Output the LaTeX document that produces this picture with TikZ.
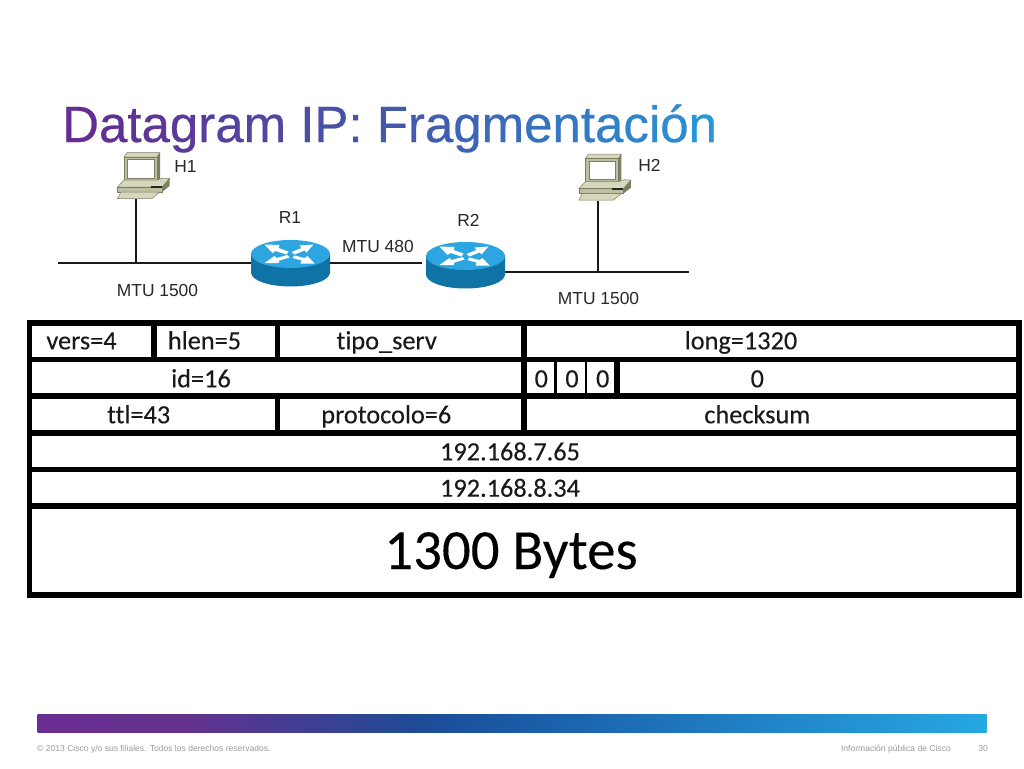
\documentclass[tikz,border=0pt]{standalone}
\usepackage{fontspec}
\setmainfont{Liberation Sans}
\newfontfamily\titlefont[FakeBold=0.5]{Liberation Sans}
\newfontfamily\tablefont[Ligatures=NoCommon,FakeBold=0.15]{Carlito}
\definecolor{tA}{RGB}{101,44,145}
\definecolor{tM}{RGB}{68,88,172}
\definecolor{tC}{RGB}{38,150,216}
\definecolor{pcMid}{RGB}{190,190,160}
\definecolor{pcLight}{RGB}{215,215,190}
\definecolor{pcDark}{RGB}{125,125,100}
\definecolor{rTop}{RGB}{45,165,225}
\definecolor{rSide}{RGB}{15,115,165}
\definecolor{labelInk}{RGB}{40,40,40}
\definecolor{footInk}{RGB}{155,155,155}
\definecolor{tBarA}{RGB}{107,45,145}
\definecolor{tBarB}{RGB}{98,50,142}
\definecolor{tBarC}{RGB}{30,75,150}
\definecolor{tBarD}{RGB}{26,90,165}
\definecolor{tBarE}{RGB}{38,168,226}
\pgfdeclarehorizontalshading{ciscobar}{100bp}{%
 color(0bp)=(tBarA); color(25bp)=(tBarA); color(33bp)=(tBarB); color(45bp)=(tBarC); color(50bp)=(tBarD); color(75bp)=(tBarE); color(100bp)=(tBarE)}
\newcommand\Ta[2]{\textcolor{tM!#1!tA}{#2}}
\newcommand\Tb[2]{\textcolor{tC!#1!tM}{#2}}
\tikzset{
 cell/.style={anchor=base,inner sep=0pt,font=\tablefont\fontsize{26.3}{30}\selectfont,text=black!90},
 netlabel/.style={anchor=base,inner sep=0pt,font=\fontsize{17.4}{20}\selectfont,text=labelInk},
 footer/.style={inner sep=0pt,text=footInk,font=\fontsize{8.55}{10}\selectfont},
 heavy/.style={line width=5.6pt,draw=black},
 thin rule/.style={line width=2.7pt,draw=black},
 wire/.style={line width=2pt,draw=black!90},
 hit/.style={inner sep=0pt,minimum width=#1,draw=none},
}
\newcommand\pcicon[3]{%
 \begin{scope}[shift={(#1,#2)}]
  \fill[pcLight,draw=pcDark,line width=.5pt] (124,157)--(127,152.5)--(160,152.5)--(157,157)--cycle;
  \fill[pcMid,draw=pcDark,line width=.5pt] (124,157)--(157,157)--(157,181)--(124,181)--cycle;
  \fill[pcDark] (157,157)--(160,152.5)--(160,178.5)--(157,181)--cycle;
  \fill[white,draw=pcDark,line width=.5pt] (127.5,159.5) rectangle (154,178);
  \fill[pcLight,draw=pcDark,line width=.5pt] (117.5,187)--(124,180)--(157,180)--(163,178)--(169.5,178.5)--(162,187)--cycle;
  \fill[pcMid,draw=pcDark,line width=.5pt] (117.5,187)--(162,187)--(162,192)--(117.5,192)--cycle;
  \fill[pcDark] (162,187)--(169.5,178.5)--(169.5,186)--(162,192)--cycle;
  \fill[black!85] (150.5,186) rectangle (162,188);
  \fill[pcLight,draw=pcDark,line width=.5pt] (121,192)--(160,192)--(157.5,194)--(152,198.5)--(117.5,198.5)--cycle;
 \end{scope}}
\newcommand\routericon[2]{%
 \begin{scope}[shift={(#1,#2)}]
  \fill[rSide] (-39.5,0) -- (-39.5,18.5) arc[start angle=180,end angle=0,x radius=39.5,y radius=14] -- (39.5,0) -- cycle;
  \fill[rTop] (0,0) ellipse[x radius=39.5,y radius=14];
  \fill[white] (-26,-9.5)--(-11,-9)--(-12,-6)--(-2,-2.5)--(-4,0.5)--(-15,-3)--(-18,-1)--cycle;
  \fill[white] (23,-9.5)--(9,-8.5)--(11,-6)--(1,-2)--(4,0.5)--(14,-3.5)--(16,-1.5)--cycle;
  \fill[white] (-26,9)--(-12,9)--(-11,6.5)--(-1,3.5)--(-3,1)--(-14,4)--(-16,2)--cycle;
  \fill[white] (24,9.5)--(10,9.5)--(11,6.5)--(2,4)--(4,1.5)--(14,4)--(17,2)--cycle;
 \end{scope}}
\begin{document}
\begin{tikzpicture}[x=1pt,y=-1pt]
\useasboundingbox (0,0) rectangle (1024,768);
\fill[white] (0,0) rectangle (1024,768);

% title
\node[anchor=base west,inner sep=0pt,font=\titlefont\fontsize{51}{56}\selectfont] (title) at (62,142) {\Ta{0}{D}\Ta{9}{a}\Ta{18}{t}\Ta{24}{a}\Ta{32}{g}\Ta{42}{r}\Ta{50}{a}\Ta{60}{m} \Ta{76}{I}\Ta{82}{P}\Ta{90}{:} \Ta{100}{F}\Tb{5}{r}\Tb{12}{a}\Tb{20}{g}\Tb{30}{m}\Tb{40}{e}\Tb{50}{n}\Tb{58}{t}\Tb{64}{a}\Tb{72}{c}\Tb{80}{i}\Tb{84}{ó}\Tb{100}{n}};

% network
\coordinate (lanAw) at (58,263);
\coordinate (lanAj) at (136,263);
\coordinate (lanBe) at (689,272);
\coordinate (lanBj) at (597.5,272);
\coordinate (r2in) at (421.5,263);
\coordinate (r2out) at (505,272);
\node[hit=79pt,minimum height=45pt] (r1) at (290.5,263) {};
\node[hit=79pt,minimum height=45pt] (r2) at (465.5,266) {};
\node[hit=52pt,minimum height=47pt] (h1) at (143.5,175.5) {};
\node[hit=52pt,minimum height=47pt] (h2) at (605,177.2) {};
\draw[wire] (lanAw) -- (r1.west);
\draw[wire] (h1.south -| lanAj) -- (lanAj);
\draw[wire,line width=1.5pt] (r1.east) -- (r2in);
\draw[wire] (r2out) -- (lanBe);
\draw[wire] (h2.south -| lanBj) -- (lanBj);
\pcicon{0}{0}{h1}
\pcicon{461.3}{1.7}{h2}
\routericon{290.5}{254}
\routericon{465.5}{256}
\node[netlabel] (lh1) at (185.5,172) {H1};
\node[netlabel] (lh2) at (649.5,171) {H2};
\node[netlabel] (lr1) at (290,223) {R1};
\node[netlabel] (lr2) at (468.5,226) {R2};
\node[netlabel] (m480) at (378,252) {MTU 480};
\node[netlabel] (m1) at (157.5,296) {MTU 1500};
\node[netlabel] (m2) at (598.5,304) {MTU 1500};

% table
\draw[heavy] (29.5,323) rectangle (1019,594.7);
\foreach \yy in {359.5,396.2,432.9,469.5,506.2} \draw[heavy] (29.5,\yy) -- (1019,\yy);
\draw[heavy] (153.7,323) -- (153.7,359.5);
\draw[heavy] (277.5,323) -- (277.5,359.5);
\draw[heavy] (277.5,396.2) -- (277.5,432.9);
\draw[heavy] (523.8,323) -- (523.8,432.9);
\draw[thin rule] (555.3,359.5) -- (555.3,396.2);
\draw[thin rule] (586,359.5) -- (586,396.2);
\draw[heavy] (617.2,359.5) -- (617.2,396.2);

\node[cell] (c1) at (81.5,349.3) {vers=4};
\node[cell] (c2) at (204.5,349.3) {hlen=5};
\node[cell] (c3) at (386.7,349.3) {tipo\_serv};
\node[cell] (c4) at (741,349.3) {long=1320};
\node[cell] (c5) at (201,387.3) {id=16};
\node[cell] (c6) at (541.3,387.3) {0};
\node[cell] (c7) at (572,387.3) {0};
\node[cell] (c8) at (602.7,387.3) {0};
\node[cell] (c9) at (757.3,387.3) {0};
\node[cell] (c10) at (138.7,423.3) {ttl=43};
\node[cell] (c11) at (386.3,423.3) {protocolo=6};
\node[cell] (c12) at (757.3,423.3) {checksum};
\node[cell] (c13) at (510,460.3) {192.168.7.65};
\node[cell] (c14) at (510,496.7) {192.168.8.34};
\node[cell,font=\tablefont\fontsize{56.8}{62}\selectfont,text=black] (c15) at (511,569) {1300 Bytes};

% footer
\shade[shading=ciscobar] (37.5,714.5) rectangle (986.5,732.5);
\node[footer,anchor=base west] (f1) at (37,751.5) {© 2013 Cisco y/o sus filiales. Todos los derechos reservados.};
\node[footer,anchor=base east] (f2) at (951,751) {Información pública de Cisco};
\node[footer,anchor=base east] (f3) at (988,751) {30};
\end{tikzpicture}
\end{document}
